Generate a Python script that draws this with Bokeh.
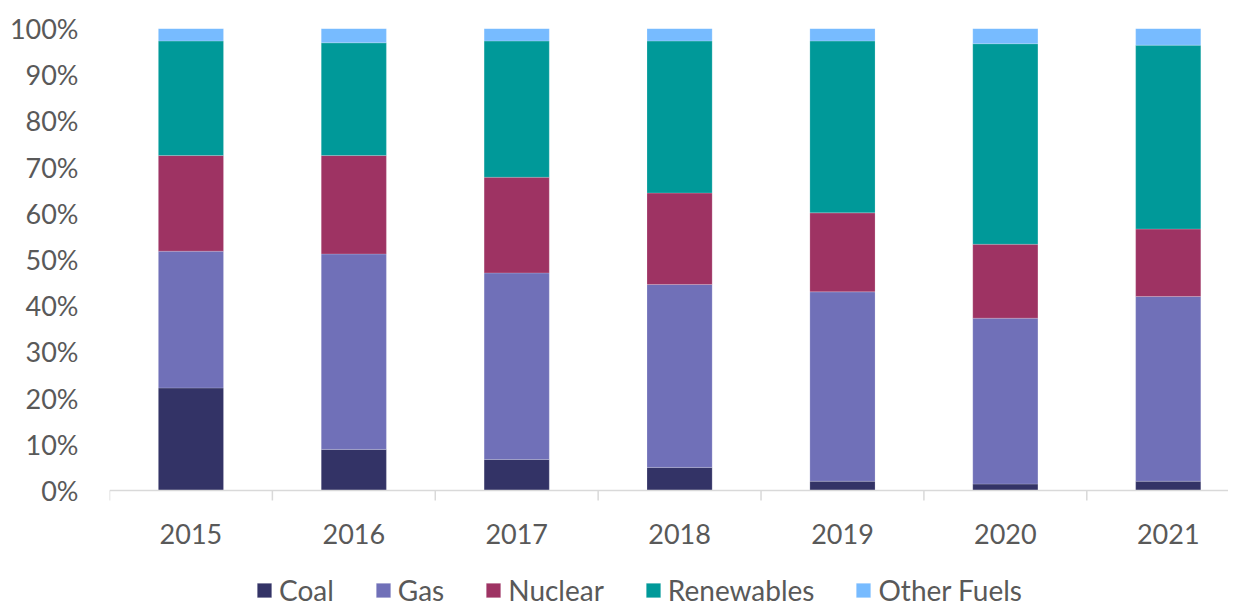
from bokeh.plotting import figure
from bokeh.models import ColumnDataSource, Range1d, FixedTicker, Legend, LegendItem, Span
from bokeh.core.properties import value
from bokeh.embed import file_html
from bokeh.resources import INLINE

years = ["2015", "2016", "2017", "2018", "2019", "2020", "2021"]
coal = [22.2, 8.9, 6.7, 5.0, 2.0, 1.4, 2.0]
gas = [29.6, 42.3, 40.4, 39.6, 41.0, 35.9, 40.0]
nuclear = [20.7, 21.3, 20.7, 19.8, 17.1, 16.0, 14.6]
renewables = [24.8, 24.4, 29.5, 32.9, 37.2, 43.4, 39.8]
other = [2.7, 3.1, 2.7, 2.7, 2.7, 3.3, 3.6]
series = ["Coal", "Gas", "Nuclear", "Renewables", "Other Fuels"]
colors = ["#333366", "#7070b8", "#9e3363", "#009999", "#77bbff"]
y_ticks = [0, 10, 20, 30, 40, 50, 60, 70, 80, 90, 100]

x = list(range(len(years)))
src = ColumnDataSource(dict(x=x, Coal=coal, Gas=gas, Nuclear=nuclear,
                            Renewables=renewables, Other=other))
keys = ["Coal", "Gas", "Nuclear", "Renewables", "Other"]

FONT = "Lato"
TXT = "#595959"
AXIS = "#d9d9d9"

H = 607
TOP = 28
ZERO_PX = 490          # pixel row of 0 %
scale = (ZERO_PX - TOP) / 100.0
ybot = -(H - ZERO_PX) / scale

p = figure(width=1228, height=H, x_range=Range1d(-0.5, 6.37), y_range=Range1d(ybot, 100),
           output_backend="svg", toolbar_location=None, x_axis_location=None,
           min_border_left=109, min_border_right=0, min_border_top=TOP, min_border_bottom=0)
p.outline_line_color = None
p.xgrid.visible = False
p.ygrid.visible = False

rs = p.vbar_stack(keys, x="x", width=0.4, color=colors, source=src,
                  line_color="white", line_width=0.6, line_alpha=0.3)

# category axis drawn at 0 %
p.add_layout(Span(location=0, dimension="width", line_color=AXIS, line_width=1.5))
bounds = [i - 0.5 for i in range(len(years) + 1)]
tick_len = 10 / scale
p.segment(x0=bounds, y0=[0] * len(bounds), x1=bounds, y1=[-tick_len] * len(bounds),
          line_color=AXIS, line_width=1.5)
p.text(x=x, y=[-(533 - ZERO_PX) / scale] * len(x), text=years,
       text_font=value(FONT), text_font_size="27px", text_color=TXT,
       text_align="center", text_baseline="middle")

# y axis
p.yaxis.ticker = FixedTicker(ticks=y_ticks)
p.yaxis.major_label_overrides = {t: f"{t}%" for t in y_ticks}
p.yaxis.axis_line_color = None
p.yaxis.major_tick_line_color = None
p.yaxis.minor_tick_line_color = None
p.yaxis.major_label_text_font = FONT
p.yaxis.major_label_text_font_size = "27px"
p.yaxis.major_label_text_color = TXT
p.yaxis.major_label_standoff = 25

items = [LegendItem(label=s, renderers=[r]) for s, r in zip(series, rs)]
legend = Legend(items=items, location=(146, 0), orientation="horizontal",
                glyph_width=18, glyph_height=18, label_standoff=6, spacing=40,
                padding=0, margin=0, border_line_color=None, background_fill_alpha=0,
                label_text_font=FONT, label_text_font_size="28px", label_text_color=TXT)
p.add_layout(legend, "center")

open("out.html", "w").write(file_html(p, INLINE))
